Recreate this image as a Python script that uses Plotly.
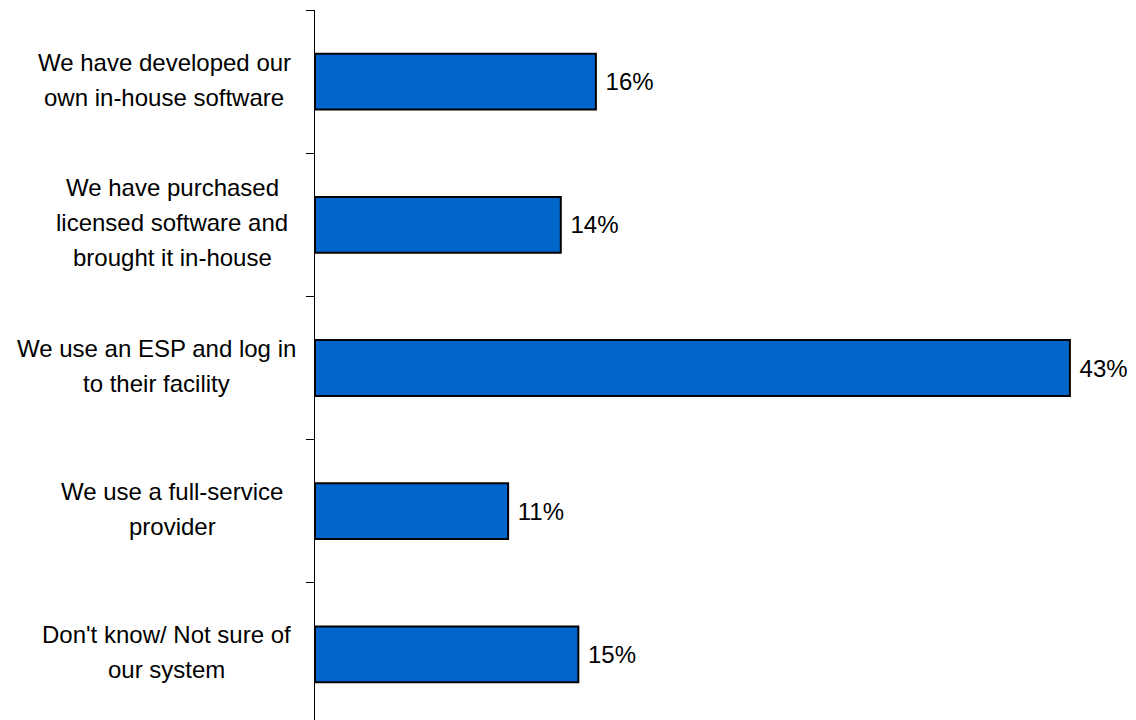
import plotly.graph_objects as go

# Survey responses: how the email system is run
categories = [
    "We have developed our own in-house software",
    "We have purchased licensed software and brought it in-house",
    "We use an ESP and log in to their facility",
    "We use a full-service provider",
    "Don't know/ Not sure of our system",
]
label_lines = [
    ["We have developed our", "own in-house software"],
    ["We have purchased", "licensed software and", "brought it in-house"],
    ["We use an ESP and log in", "to their facility"],
    ["We use a full-service", "provider"],
    ["Don't know/ Not sure of", "our system"],
]
shares = [16, 14, 43, 11, 15]

FONT = "Liberation Sans, Arial, sans-serif"
W, H = 1136, 720
L, R, T, B = 315, 31, 10, 0
X_MAX = 45
plot_w = W - L - R
plot_h = H - T - B
band_px = 143.2  # height of one category band

fig = go.Figure(
    go.Bar(
        x=shares,
        y=categories,
        orientation="h",
        width=0.39,
        marker=dict(color="#0066CC", line=dict(color="#000000", width=2)),
        # leading space keeps the value clear of the bar end
        text=[f" {v}%" for v in shares],
        textposition="outside",
        textfont=dict(family=FONT, size=24, color="#000000"),
        cliponaxis=False,
        hoverinfo="skip",
    )
)

# Centred, multi-line category labels to the left of the axis
block_centers_px = [164, 172, 156, 172, 166]
line_step = 35
annotations = []
for cat, lines, cx in zip(categories, label_lines, block_centers_px):
    n = len(lines)
    for i, line in enumerate(lines):
        annotations.append(
            dict(
                xref="paper",
                yref="y",
                x=(cx - L) / plot_w,
                y=cat,
                text=line,
                showarrow=False,
                xanchor="center",
                yanchor="middle",
                yshift=((n - 1) / 2 - i) * line_step + 2,
                font=dict(family=FONT, size=24, color="#000000"),
            )
        )

n_bands = plot_h / band_px
fig.update_layout(
    width=W,
    height=H,
    margin=dict(l=L, r=R, t=T, b=B, pad=0),
    paper_bgcolor="#ffffff",
    plot_bgcolor="#ffffff",
    showlegend=False,
    annotations=annotations,
    xaxis=dict(
        range=[0, X_MAX],
        visible=False,
        showgrid=False,
        zeroline=False,
    ),
    yaxis=dict(
        type="category",
        categoryorder="array",
        categoryarray=categories,
        range=[-0.5 + n_bands, -0.5],
        showticklabels=False,
        showgrid=False,
        zeroline=False,
        showline=True,
        linecolor="#000000",
        linewidth=1,
        ticks="outside",
        tickson="boundaries",
        ticklen=8,
        tickcolor="#000000",
        tickwidth=1,
    ),
)

fig.write_html("out.html")
